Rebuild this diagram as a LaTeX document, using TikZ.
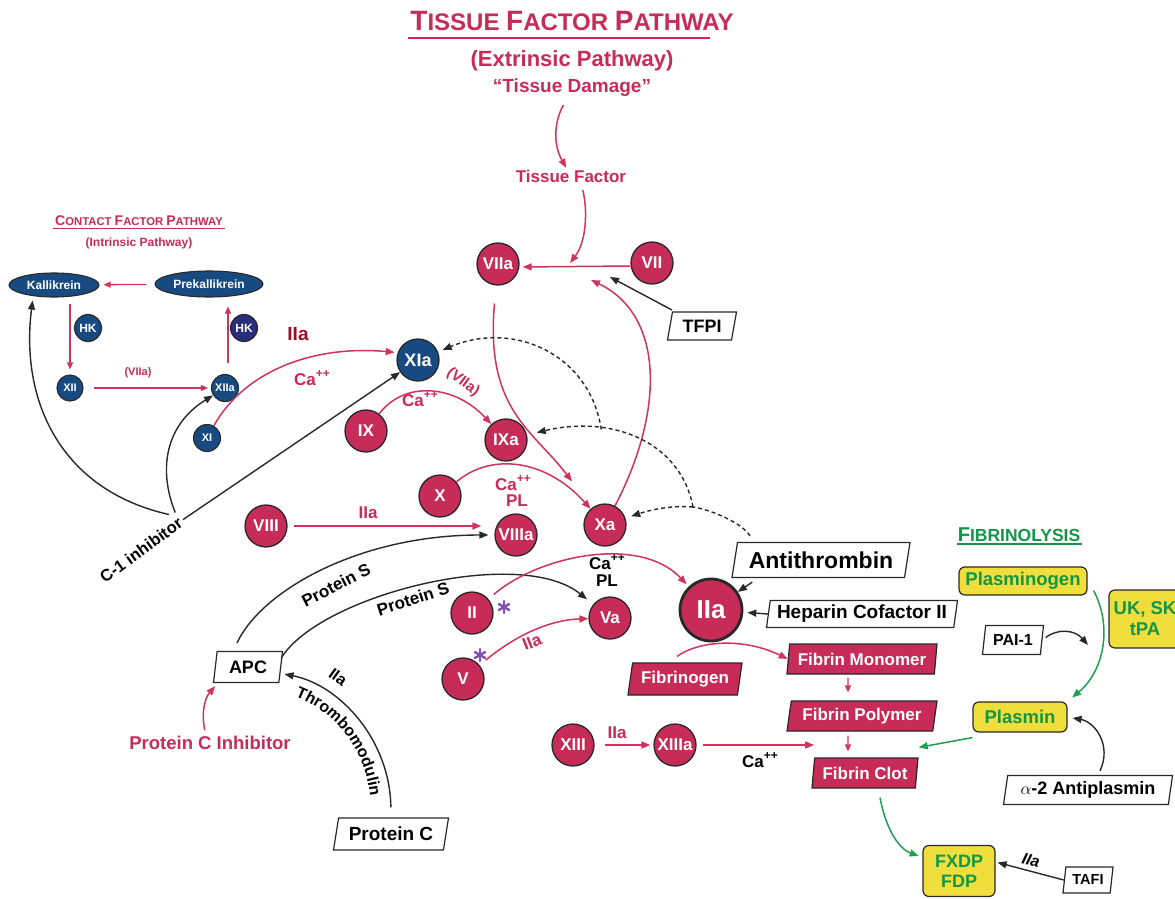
\documentclass[tikz,border=0pt]{standalone}
\usepackage{fontspec}
\setmainfont{Liberation Sans}
\newfontfamily\hv{Liberation Sans}
\usetikzlibrary{shapes.geometric,arrows.meta,decorations.text}
\definecolor{crim}{RGB}{199,44,88}
\definecolor{rline}{RGB}{208,52,92}
\definecolor{blu}{RGB}{24,74,130}
\definecolor{indg}{RGB}{42,46,122}
\definecolor{yel}{RGB}{240,222,60}
\definecolor{grn}{RGB}{18,150,72}
\definecolor{gline}{RGB}{30,160,80}
\definecolor{dred}{RGB}{160,12,40}
\definecolor{purp}{RGB}{125,80,180}
\definecolor{olc}{RGB}{40,40,40}
\newcommand{\setfs}[1]{\fontsize{#1}{#1}\selectfont}
\newcommand{\capp}[1]{Ca\raisebox{0.42em}{\setfs{#1}++}}
\newcommand{\tmfont}{\hv\bfseries\setfs{16}}
\begin{document}
\begin{tikzpicture}[x=1pt,y=-1pt,
  fac/.style={circle,draw=olc,line width=1.3pt,fill=crim,text=white,minimum size=42pt,inner sep=0pt,font=\hv\bfseries\setfs{17}},
  bfac/.style={fac,fill=blu,font=\hv\bfseries\setfs{18}},
  sfac/.style={circle,draw=olc,line width=1.1pt,fill=blu,text=white,minimum size=27pt,inner sep=0pt,font=\hv\bfseries\setfs{11}},
  ell/.style={ellipse,draw=olc,line width=1.1pt,fill=blu,text=white,inner sep=0pt,font=\hv\bfseries\setfs{12}},
  para/.style={trapezium,trapezium left angle=74,trapezium right angle=106,trapezium stretches body=true,draw=olc,line width=1.2pt,fill=white,text=black,inner sep=0pt,font=\hv\bfseries\setfs{18}},
  rpara/.style={para,fill=crim,text=white,font=\hv\bfseries\setfs{17}},
  ybox/.style={rectangle,rounded corners=6pt,draw=olc,line width=1.2pt,fill=yel,text=grn,inner sep=0pt,align=center,font=\hv\bfseries\setfs{18.5}},
  lbl/.style={inner sep=0pt,font=\hv\bfseries\setfs{17}},
  rl/.style={lbl,text=crim},
  kl/.style={lbl,text=black},
  mytip/.style={-{Triangle[length=9pt,width=7pt]}},
  rarr/.style={draw=rline,line width=1.5pt,mytip},
  karr/.style={draw=olc,line width=1.4pt,mytip},
  garr/.style={draw=gline,line width=1.5pt,mytip},
  dsh/.style={draw=olc,line width=1.4pt,dash pattern=on 4pt off 3pt,mytip},
  srarr/.style={draw=rline,line width=1.3pt,-{Triangle[length=7pt,width=6pt]}}
]
\fill[white] (0,0) rectangle (1175,899);
\useasboundingbox (0,0) rectangle (1175,899);

% ---------- titles ----------
\node[rl] (title) at (572,21) {\setfs{28}T\setfs{24}ISSUE \setfs{28}F\setfs{24}ACTOR \setfs{28}P\setfs{24}ATHWAY};
\draw[crim,line width=1.2pt] (408,38) -- (710,38);
\node[rl,font=\hv\bfseries\setfs{22}] (ext) at (572,61) {(Extrinsic Pathway)};
\node[rl,font=\hv\bfseries\setfs{19}] (td) at (572,88) {“Tissue Damage”};
\node[rl] (tf) at (571,176) {Tissue Factor};

\node[rl,font=\hv\bfseries\setfs{14}] (ctitle) at (139,221) {C\setfs{11.3}ONTACT \setfs{14}F\setfs{11.3}ACTOR \setfs{14}P\setfs{11.3}ATHWAY};
\draw[crim,line width=1pt] (53,228) -- (225,228);
\node[rl,font=\hv\bfseries\setfs{12}] (intr) at (139,243) {(Intrinsic Pathway)};

\node[lbl,text=grn,font=\hv\bfseries\setfs{20}] (ftitle) at (1019,535) {F\setfs{17.5}IBRINOLYSIS};
\draw[grn,line width=1.2pt] (957,544) -- (1082,544);

% ---------- factor circles ----------
\node[fac] (viia) at (498,264) {VIIa};
\node[fac] (vii) at (652,263) {VII};
\node[bfac] (xia) at (418,360) {XIa};
\node[fac] (ix) at (366,431) {IX};
\node[fac] (ixa) at (506,440) {IXa};
\node[fac] (x) at (440,496) {X};
\node[fac] (xa) at (605,525) {Xa};
\node[fac] (viii) at (266,526) {VIII};
\node[fac] (viiia) at (516,535) {VIIIa};
\node[fac] (ii) at (472,613) {II};
\node[fac] (va) at (610,618) {Va};
\node[fac] (v) at (463,679) {V};
\node[fac,minimum size=62pt,line width=2.8pt,font=\hv\bfseries\setfs{26}] (iia) at (711,610) {IIa};
\node[fac] (xiii) at (573,745) {XIII};
\node[fac] (xiiia) at (675,745) {XIIIa};

% ---------- contact pathway ----------
\node[ell,minimum width=90pt,minimum height=24pt] (kal) at (54,285) {Kallikrein};
\node[ell,minimum width=108pt,minimum height=26pt] (pk) at (209,284) {Prekallikrein};
\node[sfac,font=\hv\bfseries\setfs{12}] (hk1) at (88,328) {HK};
\node[sfac,fill=indg,font=\hv\bfseries\setfs{12}] (hk2) at (244,328) {HK};
\node[sfac,minimum size=26pt] (xii) at (70,388) {XII};
\node[sfac] (xiia) at (225,388) {XIIa};
\node[sfac] (xi) at (207,438) {XI};

% ---------- boxes ----------
\node[para,minimum width=69pt,minimum height=28pt,trapezium left angle=68,trapezium right angle=112] (tfpi) at (702,326) {TFPI};
\node[para,minimum width=178pt,minimum height=35pt,trapezium left angle=72,trapezium right angle=108,font=\hv\bfseries\setfs{23}] (at) at (821,560) {Antithrombin};
\node[para,minimum width=191pt,minimum height=27pt,trapezium left angle=78,trapezium right angle=102,font=\hv\bfseries\setfs{19}] (hc) at (862,614) {Heparin Cofactor II};
\node[rpara,minimum width=114pt,minimum height=32pt] (fg) at (685,679) {Fibrinogen};
\node[rpara,minimum width=150pt,minimum height=30pt,trapezium left angle=78,trapezium right angle=102] (fm) at (862,659) {Fibrin Monomer};
\node[rpara,minimum width=150pt,minimum height=30pt,trapezium left angle=75,trapezium right angle=105] (fp) at (862,716) {Fibrin Polymer};
\node[rpara,minimum width=106pt,minimum height=30pt,trapezium left angle=78,trapezium right angle=102] (fc) at (865,773) {Fibrin Clot};
\node[para,minimum width=69pt,minimum height=31pt] (apc) at (248,667) {APC};
\node[para,minimum width=115pt,minimum height=32pt,trapezium left angle=70,trapezium right angle=110,font=\hv\bfseries\setfs{19}] (pc) at (391,834) {Protein C};
\node[rl,font=\hv\bfseries\setfs{18.5}] (pci) at (210,743) {Protein C Inhibitor};

\node[ybox,minimum width=128pt,minimum height=28pt] (pg) at (1023,581) {Plasminogen};
\node[ybox,minimum width=72pt,minimum height=58pt,font=\hv\bfseries\fontsize{18.5}{21}\selectfont] (uk) at (1145,619) {UK, SK\\tPA};
\node[para,minimum width=61pt,minimum height=29pt,font=\hv\bfseries\setfs{16}] (pai) at (1013,640) {PAI-1};
\node[ybox,minimum width=94pt,minimum height=30pt] (pl) at (1020,717) {Plasmin};
\node[para,minimum width=169pt,minimum height=29pt,trapezium left angle=76,trapezium right angle=104] (a2) at (1088,790) {{\normalfont\mdseries$\alpha$}-2 Antiplasmin};
\node[ybox,minimum width=72pt,minimum height=51pt,font=\hv\bfseries\fontsize{18}{20}\selectfont] (fx) at (959,871) {FXDP\\FDP};
\node[para,minimum width=50pt,minimum height=26pt,font=\hv\bfseries\setfs{14.5}] (tafi) at (1088,880) {TAFI};

% ---------- labels ----------
\node[lbl,text=dred,font=\hv\bfseries\setfs{19}] (l2) at (298,334) {IIa};
\node[rl] (l1) at (312,378) {\capp{12}};
\node[rl,font=\hv\bfseries\setfs{11}] (l3) at (138,373) {(VIIa)};
\node[rl] (l4) at (420,399) {\capp{12}};
\node[rl,rotate=-37,font=\hv\bfseries\setfs{15}] (l5) at (463,382) {(VIIa)};
\node[rl] (l6) at (513,483) {\capp{12}};
\node[rl] (l7) at (517,501) {PL};
\node[rl] (l8) at (368,513) {IIa};
\node[kl,rotate=27] (l9) at (336,585) {Protein S};
\node[kl,rotate=18] (l10) at (413,599) {Protein S};
\node[kl] (l11) at (607,562) {\capp{12}};
\node[kl] (l12) at (607,581) {PL};
\node[rl,rotate=22] (l13) at (532,642) {IIa};
\node[rl] (l14) at (617,733) {IIa};
\node[kl] (l15) at (760,760) {\capp{12}};
\node[kl,rotate=-36,font=\hv\bfseries\setfs{16}] (l16) at (338,677) {IIa};
\node[kl,rotate=-14,font=\hv\bfseries\itshape\setfs{16}] (l17) at (1031,860) {IIa};
\node[kl,rotate=36,font=\hv\bfseries\setfs{16.5}] (c1) at (141,550) {C-1 inhibitor};
\path[decorate,decoration={text along path,text={|\tmfont|Thrombomodulin},text align=center}] (280,692) .. controls (329,703) and (371,748) .. (371,812);

% ---------- coordinates ----------
\coordinate (m1) at (570,263);
\coordinate (t1) at (610,277);
\coordinate (x1) at (591,280);
\coordinate (b1) at (693,507);
\coordinate (p1) at (1088,645);
\coordinate (as1) at (504,607);
\coordinate (as2) at (480,655);

% ---------- connectors: extrinsic ----------
\draw[rarr,shorten <=9pt,shorten >=2pt] (td) .. controls (552,127) and (555,148) .. (tf);
\draw[rarr,shorten <=8pt] ([xshift=10pt]tf.south) .. controls (588,212) and (586,242) .. (m1);
\draw[rarr,shorten >=3pt] ([yshift=-3pt]vii.west) -- ([yshift=-3pt]viia.east);
\draw[karr,shorten <=3pt] (tfpi) -- (t1);
\draw[rarr] (xa) .. controls (665,410) and (664,315) .. (x1);
\draw[rarr,shorten <=18pt,shorten >=33pt] (viia) .. controls (485,410) and (533,430) .. (xa);
\draw[rarr] (ix) .. controls (405,380) and (455,385) .. (ixa);
\draw[rarr] (x) .. controls (490,453) and (545,458) .. (xa);
\draw[rarr,shorten <=6pt,shorten >=13pt] (viii) -- (viii -| viiia.west);
\draw[karr,shorten >=6pt] ([xshift=-11pt,yshift=8pt]apc.north) .. controls (262,590) and (360,535) .. (viiia);
\draw[karr,shorten >=8pt] ([yshift=9pt]apc.east) .. controls (320,595) and (520,545) .. (va);
\draw[rarr,shorten <=7pt,shorten >=3pt] (ii) .. controls (540,555) and (640,535) .. (iia);
\draw[rarr,shorten <=8pt] (v) .. controls (510,640) and (545,620) .. (va);
\draw[karr] ([xshift=21pt,yshift=-4pt]at.bottom left corner) -- (iia);
\draw[karr,shorten >=4pt] (hc.west) -- (iia);
\draw[rarr] ([xshift=-8pt,yshift=6pt]fg.north) .. controls (700,640) and (745,638) .. (fm.west);
\draw[srarr,shorten <=3pt,shorten >=8pt] ([xshift=-14pt]fm.south) -- ([xshift=-14pt]fp.north);
\draw[srarr,shorten <=4pt,shorten >=6pt] ([xshift=-14pt]fp.south) -- ([xshift=-17pt]fc.north);
\draw[rarr,shorten <=10pt,shorten >=3pt] (xiii) -- (xiiia);
\draw[rarr,shorten <=6pt] (xiiia) -- (fc.top left corner |- xiiia);
\draw[karr,shorten <=10pt,shorten >=4pt] (pc.north) .. controls (390,740) and (340,685) .. (apc);
\draw[rarr,shorten <=6pt,shorten >=4pt] ([xshift=-4pt]pci.north) .. controls (201,712) and (205,698) .. ([xshift=5pt]apc.bottom left corner);

% ---------- fibrinolysis ----------
\draw[garr] ([yshift=-5pt]pl.south west) -- ([yshift=10pt]fc.top right corner);
\draw[garr,shorten >=4pt] ([shift={(15pt,-9pt)}]fc.south) .. controls (885,825) and (897,848) .. (fx);
\draw[garr,shorten >=6pt] ([shift={(6pt,5pt)}]pg.south east) .. controls (1112,625) and (1105,670) .. (pl.north east);
\draw[karr,shorten <=4pt] (pai.east) .. controls (1058,628) and (1075,630) .. (p1);
\draw[karr,shorten >=5pt] ([shift={(12pt,4pt)}]a2.north) .. controls (1112,745) and (1095,722) .. (pl.east);
\draw[karr,shorten >=2pt] (tafi.west) -- ([yshift=9pt]fx.east);

% ---------- contact connectors ----------
\draw[srarr,shorten <=8pt,shorten >=4pt] (pk) -- (kal);
\draw[srarr,shorten <=6pt,shorten >=5pt] (xii |- kal.south) -- (xii);
\draw[srarr,shorten <=10pt,shorten >=3pt] (xii) -- (xiia);
\draw[srarr,shorten <=11pt,shorten >=9pt] ([xshift=3pt]xiia.north) -- ([xshift=3pt]xiia.north |- pk.south);
\draw[rarr,shorten >=3pt] (xi) .. controls (245,370) and (315,345) .. (xia.160);
\draw[karr,shorten <=8pt,shorten >=3pt] (c1.north east) .. controls (60,490) and (20,400) .. ([xshift=-21pt]kal.south);
\draw[karr,shorten <=4pt] (c1.north east) .. controls (158,470) and (165,425) .. (xiia);
\draw[karr,shorten <=3pt] (c1.east) -- (xia);

% ---------- dashed inhibition ----------
\draw[dsh,-] ([xshift=-71pt,yshift=6pt]at.north) .. controls (742,523) and (712,510) .. (b1);
\draw[dsh,shorten >=6pt] (b1) .. controls (672,505) and (650,510) .. (xa);
\draw[dsh,shorten >=10pt] (b1) .. controls (680,440) and (610,415) .. (ixa) coordinate[pos=0.68] (b2);
\draw[dsh,shorten >=5pt] (b2) .. controls (590,355) and (515,320) .. (xia);

% ---------- asterisks ----------
\foreach \c in {as1,as2}{
  \foreach \a in {90,30,150}{
    \draw[purp,line width=2.4pt,line cap=round] (\c) ++(\a:6pt) -- ++(\a+180:12pt);
  }
}
\end{tikzpicture}
\end{document}
